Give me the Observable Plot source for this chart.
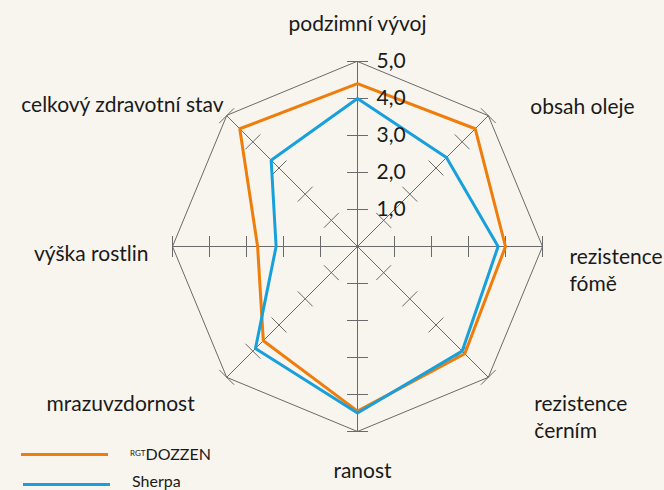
<!DOCTYPE html>
<html><head><meta charset="utf-8">
<script src="https://cdn.jsdelivr.net/npm/d3@7"></script>
<script src="https://cdn.jsdelivr.net/npm/@observablehq/plot@0.6"></script>
<style>
html,body{margin:0;padding:0;background:#f8f5ee;}
#wrap{position:relative;width:664px;height:490px;overflow:hidden;font-family:Lato, sans-serif;color:#1a1a1a;}
#wrap svg{position:absolute;left:0;top:0;}
.lg{position:absolute;left:0;width:230px;height:18px;}
.lg .sw{position:absolute;height:3px;}
.lg .tx{position:absolute;font-size:16px;line-height:16px;white-space:nowrap;}
.lg sup{font-size:8px;vertical-align:top;position:relative;top:-1px;}
</style></head><body><div id="wrap"></div>
<script>
// ---- data ----
const categories = ["podzimní vývoj","obsah oleje","rezistence\nfómě","rezistence\nčerním","ranost","mrazuvzdornost","výška rostlin","celkový zdravotní stav"];
const seriesNames = ["RGT DOZZEN","Sherpa"];
const dozzenValues = [4.4, 4.5, 4.0, 4.1, 4.45, 3.6, 2.7, 4.5];
const sherpaValues = [4.0, 3.4, 3.8, 4.0, 4.5, 3.9, 2.2, 3.3];
const scaleLevels = [1, 2, 3, 4, 5];
const tickLabels = ["1,0", "2,0", "3,0", "4,0", "5,0"];

// ---- layout ----
const W = 664, H = 490, CX = 357, CY = 246, PX = 37; // pixels per unit
const colors = ["#ee7d0c", "#17a0db"];
const labelLayout = [
  {dx: 0, dy: -39, anchor: "middle"},
  {dx: 42, dy: -10, anchor: "start"},
  {dx: 27, dy: 22, anchor: "start"},
  {dx: 46, dy: 39, anchor: "start"},
  {dx: 5, dy: 38, anchor: "middle"},
  {dx: -32, dy: 25, anchor: "end"},
  {dx: -24, dy: 6, anchor: "end"},
  {dx: -3, dy: -12, anchor: "end"}
];
const n = categories.length;
const ang = i => i * 2 * Math.PI / n;
const px = (i, r) => r * Math.sin(ang(i));
const py = (i, r) => r * Math.cos(ang(i));
const maxV = d3.max(scaleLevels);

const seriesRows = [];
[dozzenValues, sherpaValues].forEach((vals, s) => {
  vals.forEach((v, i) => seriesRows.push({series: seriesNames[s], i, v, x: px(i, v), y: py(i, v)}));
});
const spokes = categories.map((c, i) => ({x1: 0, y1: 0, x2: px(i, maxV), y2: py(i, maxV)}));
const outer = categories.map((c, i) => ({x: px(i, maxV), y: py(i, maxV)}));
const h = 10.5 / PX;
const ticks = [];
categories.forEach((c, i) => scaleLevels.forEach(l => {
  const a = ang(i), cx = px(i, l), cy = py(i, l);
  ticks.push({x1: cx - h * Math.cos(a), y1: cy + h * Math.sin(a), x2: cx + h * Math.cos(a), y2: cy - h * Math.sin(a)});
}));

const labelMarks = categories.map((c, i) => Plot.text([c], {
  x: () => px(i, maxV), y: () => py(i, maxV), text: d => d,
  dx: labelLayout[i].dx, dy: labelLayout[i].dy, textAnchor: labelLayout[i].anchor,
  lineAnchor: "middle", lineHeight: 1.28, fontSize: 21, fill: "#1a1a1a"
}));

const chart = Plot.plot({
  width: W, height: H, margin: 0,
  style: {background: "transparent", fontFamily: "Lato, sans-serif", overflow: "visible"},
  x: {domain: [-CX / PX, (W - CX) / PX], axis: null},
  y: {domain: [-(H - CY) / PX, CY / PX], axis: null},
  color: {domain: seriesNames, range: colors},
  marks: [
    Plot.line(outer, {x: "x", y: "y", curve: "linear-closed", stroke: "#6a6a6a", strokeWidth: 1}),
    Plot.link(spokes, {x1: "x1", y1: "y1", x2: "x2", y2: "y2", stroke: "#6a6a6a", strokeWidth: 1}),
    Plot.link(ticks, {x1: "x1", y1: "y1", x2: "x2", y2: "y2", stroke: "#6a6a6a", strokeWidth: 1}),
    Plot.line(seriesRows, {x: "x", y: "y", z: "series", stroke: "series", strokeWidth: 3, curve: "linear-closed", strokeLinejoin: "miter"}),
    Plot.text(scaleLevels, {x: () => 0, y: d => d, text: (d, i) => tickLabels[i], dx: 19, textAnchor: "start", fontSize: 21, fill: "#1a1a1a"}),
    ...labelMarks
  ]
});
const wrap = document.getElementById("wrap");
wrap.appendChild(chart);

// legend (HTML overlay, bottom-left)
const legendPos = [{top: 445, lineLeft: 21, textLeft: 130}, {top: 472, lineLeft: 23, textLeft: 132}];
seriesNames.forEach((name, s) => {
  const row = document.createElement("div");
  row.className = "lg";
  row.style.top = legendPos[s].top + "px";
  const sw = document.createElement("div");
  sw.className = "sw";
  sw.style.left = legendPos[s].lineLeft + "px";
  sw.style.width = "87px";
  sw.style.top = (s === 0 ? 8 : 11) + "px";
  sw.style.background = colors[s];
  const tx = document.createElement("div");
  tx.className = "tx";
  tx.style.left = legendPos[s].textLeft + "px";
  tx.style.top = "1px";
  const parts = name.split(" ");
  if (parts.length > 1 && parts[0] === parts[0].toUpperCase() && parts[0].length <= 3) {
    const sup = document.createElement("sup");
    sup.textContent = parts[0];
    tx.appendChild(sup);
    tx.appendChild(document.createTextNode(parts.slice(1).join(" ")));
  } else tx.textContent = name;
  row.appendChild(sw); row.appendChild(tx);
  wrap.appendChild(row);
});
</script></body></html>
